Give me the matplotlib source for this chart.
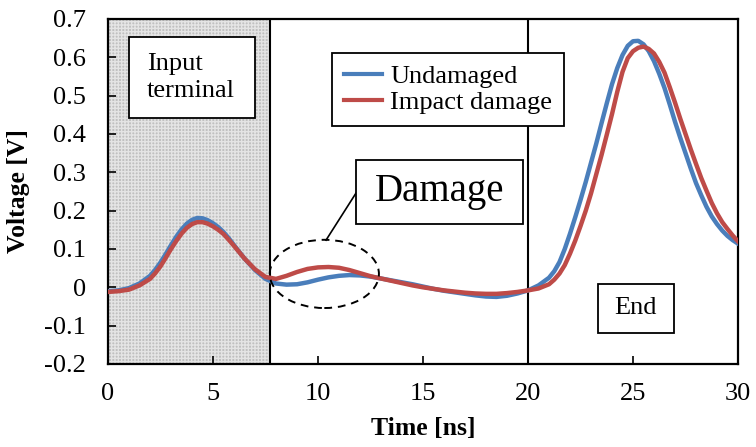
import matplotlib.pyplot as plt
from matplotlib.patches import Ellipse, Rectangle

plt.rcParams['font.family'] = ['Liberation Serif', 'DejaVu Serif']

# time axis [ns]
time = [0, 0.5, 1, 1.5, 2, 2.25, 2.5, 2.75, 3, 3.25, 3.5, 3.75, 4, 4.25, 4.5,
        4.75, 5, 5.25, 5.5, 5.75, 6, 6.5, 7, 7.5, 8, 8.5, 9, 9.5, 10, 10.5, 11,
        11.5, 12, 12.5, 13, 13.5, 14, 14.5, 15, 15.5, 16, 16.5, 17, 17.5, 18,
        18.5, 19, 19.5, 20, 20.5, 21, 21.25, 21.5, 21.75, 22, 22.25, 22.5,
        22.75, 23, 23.25, 23.5, 23.75, 24, 24.25, 24.5, 24.75, 25, 25.25, 25.5,
        25.75, 26, 26.25, 26.5, 26.75, 27, 27.25, 27.5, 27.75, 28, 28.25, 28.5,
        28.75, 29, 29.25, 29.5, 29.75, 30]

# voltage [V]
undamaged = [-0.010, -0.008, -0.002, 0.010, 0.030, 0.046, 0.065, 0.087, 0.110,
             0.132, 0.151, 0.166, 0.176, 0.181, 0.180, 0.175, 0.167, 0.157,
             0.144, 0.128, 0.110, 0.075, 0.045, 0.022, 0.010, 0.007, 0.008,
             0.013, 0.020, 0.026, 0.030, 0.032, 0.031, 0.028, 0.023, 0.018,
             0.013, 0.008, 0.002, -0.004, -0.009, -0.013, -0.017, -0.021,
             -0.024, -0.025, -0.022, -0.016, -0.008, 0.005, 0.025, 0.042,
             0.066, 0.100, 0.140, 0.183, 0.228, 0.275, 0.325, 0.375, 0.428,
             0.480, 0.530, 0.572, 0.606, 0.630, 0.642, 0.643, 0.634, 0.616,
             0.590, 0.557, 0.520, 0.477, 0.432, 0.390, 0.350, 0.310, 0.272,
             0.240, 0.210, 0.185, 0.165, 0.148, 0.134, 0.123, 0.114]

impact = [-0.012, -0.010, -0.006, 0.005, 0.022, 0.037, 0.055, 0.077, 0.100,
          0.121, 0.140, 0.155, 0.165, 0.170, 0.170, 0.166, 0.159, 0.150,
          0.139, 0.124, 0.108, 0.075, 0.047, 0.027, 0.022, 0.030, 0.040,
          0.048, 0.052, 0.053, 0.051, 0.045, 0.037, 0.029, 0.023, 0.017,
          0.011, 0.005, 0.000, -0.004, -0.008, -0.011, -0.014, -0.016,
          -0.017, -0.017, -0.015, -0.012, -0.008, -0.003, 0.008, 0.020,
          0.036, 0.058, 0.088, 0.122, 0.160, 0.200, 0.245, 0.295, 0.345,
          0.398, 0.452, 0.510, 0.562, 0.598, 0.616, 0.625, 0.628, 0.622,
          0.610, 0.588, 0.560, 0.522, 0.482, 0.440, 0.400, 0.360, 0.322,
          0.285, 0.252, 0.220, 0.193, 0.170, 0.152, 0.135, 0.120]

fig = plt.figure(figsize=(7.56, 4.47), dpi=100)
ax = fig.add_axes([0.1429, 0.1857, 0.8333, 0.7718])

# shaded input terminal region
ax.add_patch(Rectangle((0, -0.2), 7.7, 0.9, facecolor='#c0c0c0',
                       edgecolor='#e4e4e4', hatch='+' * 5, linewidth=0, zorder=0))
ax.axvline(7.7, color='black', linewidth=1.5, zorder=1)
ax.axvline(20, color='black', linewidth=1.5, zorder=1)

ax.plot(time, undamaged, color='#4a7ebb', linewidth=3.2, label='Undamaged',
        solid_joinstyle='round', zorder=3)
ax.plot(time, impact, color='#be4b48', linewidth=3.2, label='Impact damage',
        solid_joinstyle='round', zorder=4)

ax.set_xlim(0, 30)
ax.set_ylim(-0.2, 0.7)
ax.set_xticks([0, 5, 10, 15, 20, 25, 30])
ax.set_yticks([-0.2, -0.1, 0, 0.1, 0.2, 0.3, 0.4, 0.5, 0.6, 0.7])
ax.set_yticklabels(['-0.2', '-0.1', '0', '0.1', '0.2', '0.3', '0.4', '0.5', '0.6', '0.7'])
ax.tick_params(direction='in', length=6, width=1.2, labelsize=19)
ax.tick_params(axis='y', pad=16)
ax.tick_params(axis='x', pad=14)
for s in ax.spines.values():
    s.set_linewidth(1.6)

ax.set_xlabel('Time [ns]', fontsize=18.5, fontweight='bold', labelpad=8)
ax.set_ylabel('Voltage [V]', fontsize=18.5, fontweight='bold', labelpad=10)

# Input terminal label
ax.add_patch(Rectangle((1.0, 0.442), 6.0, 0.211, facecolor='white',
                       edgecolor='black', linewidth=1.3, zorder=5))
ax.text(1.85, 0.548, 'Input\nterminal', fontsize=19, ha='left', va='center',
        linespacing=1.3, zorder=6)

# damage annotation
ax.add_patch(Ellipse((10.3, 0.035), 5.2, 0.178, fill=False, edgecolor='black',
                     linestyle=(0, (4, 3)), linewidth=1.4, zorder=5))
ax.plot([10.38, 11.81], [0.123, 0.246], color='black', linewidth=1.2, zorder=5)
ax.add_patch(Rectangle((11.81, 0.165), 7.95, 0.167, facecolor='white',
                       edgecolor='black', linewidth=1.3, zorder=5))
ax.text(15.8, 0.249, 'Damage', fontsize=28, ha='center', va='center', zorder=6)

# End label
ax.add_patch(Rectangle((23.33, -0.119), 3.62, 0.128, facecolor='white',
                       edgecolor='black', linewidth=1.3, zorder=5))
ax.text(25.14, -0.055, 'End', fontsize=19, ha='center', va='center', zorder=6)

leg = ax.legend(loc='upper left', bbox_to_anchor=(0.3556, 0.9014), fontsize=19,
                frameon=True, fancybox=False, framealpha=1, edgecolor='black',
                handlelength=1.45, handletextpad=0.3, labelspacing=0.08,
                borderpad=0.45, borderaxespad=0)
leg.get_frame().set_linewidth(1.3)
leg.set_zorder(7)
for line in leg.get_lines():
    line.set_linewidth(3)

fig.savefig('out.png', dpi=100)
